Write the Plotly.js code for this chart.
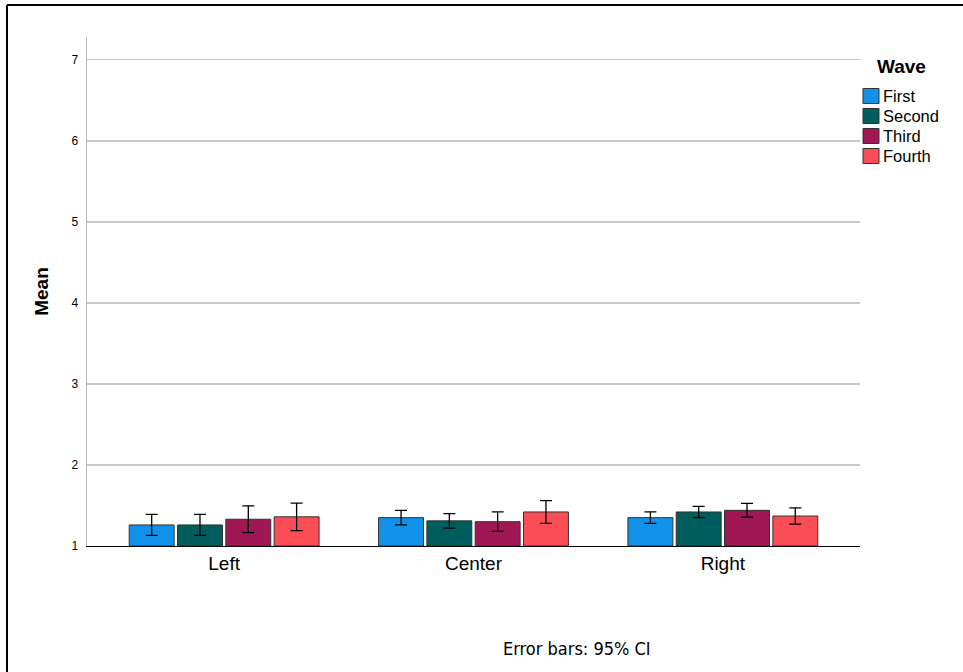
<!DOCTYPE html>
<html>
<head>
<meta charset="utf-8">
<script src="https://cdn.plot.ly/plotly-3.0.1.min.js"></script>
<style>
html,body{margin:0;padding:0;background:#fff;}
#chart{width:963px;height:672px;}
</style>
</head>
<body>
<div id="chart"></div>
<script>
// Data
const categories = ["Left", "Center", "Right"];
const waves = ["First", "Second", "Third", "Fourth"];
const waveColors = ["#1192E8", "#005D5D", "#9F1853", "#FA4D56"];
const firstMeans  = [1.26, 1.35, 1.35];
const secondMeans = [1.26, 1.31, 1.42];
const thirdMeans  = [1.33, 1.30, 1.44];
const fourthMeans = [1.36, 1.42, 1.37];
const firstCI  = [0.13, 0.09, 0.07];
const secondCI = [0.13, 0.09, 0.07];
const thirdCI  = [0.165, 0.12, 0.085];
const fourthCI = [0.17, 0.14, 0.10];
const yTicks = [1, 2, 3, 4, 5, 6, 7];

const means = [firstMeans, secondMeans, thirdMeans, fourthMeans];
const cis = [firstCI, secondCI, thirdCI, fourthCI];

const traces = waves.map((w, i) => ({
  type: "bar",
  name: w,
  x: categories,
  y: means[i].map(v => v - 1),
  base: 1,
  customdata: means[i],
  marker: { color: waveColors[i], line: { color: "#333333", width: 1 } },
  error_y: { type: "data", array: cis[i], visible: true, color: "#000000", thickness: 1.3, width: 6 },
  showlegend: false,
  hovertemplate: "%{x}: %{customdata}<extra>" + w + "</extra>"
}));

// Plot area in pixels: x 87..860, y 37..546
const PL = 87, PW = 773, PB = 546, PH = 509;
const px = p => (p - PL) / PW;
const py = p => (PB - p) / PH;

// Legend (drawn as swatches + labels next to the plot)
const legendTop = 96, legendStep = 20, sw = 16;
const legendShapes = waves.map((w, i) => {
  const cy = legendTop + i * legendStep;
  return {
    type: "rect", xref: "paper", yref: "paper",
    x0: px(863), x1: px(863 + sw), y0: py(cy + sw / 2 - 0.5), y1: py(cy - sw / 2 + 0.5),
    fillcolor: waveColors[i], line: { color: "#333333", width: 1 }
  };
});
const legendLabels = waves.map((w, i) => ({
  text: w, xref: "paper", yref: "paper", x: px(881), y: py(legendTop + i * legendStep),
  xanchor: "left", yanchor: "middle", showarrow: false,
  font: { size: 16.5, color: "#000" }
}));

const layout = {
  width: 963,
  height: 672,
  margin: { l: 87, r: 103, t: 37, b: 126 },
  paper_bgcolor: "#ffffff",
  plot_bgcolor: "#ffffff",
  font: { family: "Liberation Sans, Arial, sans-serif", color: "#000000" },
  barmode: "group",
  bargap: 0.225,
  bargroupgap: 0.07,
  showlegend: false,
  xaxis: {
    range: [-0.55, 2.55],
    showline: true, linecolor: "#000000", linewidth: 1.2,
    showgrid: false, zeroline: false,
    ticks: "", tickfont: { size: 19, color: "#000" },
    fixedrange: true
  },
  yaxis: {
    range: [1, 7.28],
    tickvals: yTicks,
    ticktext: yTicks.map(String),
    showline: true, linecolor: "#b8b8b8", linewidth: 1.5,
    showgrid: true, gridcolor: "#c8c8c8", gridwidth: 1.5,
    zeroline: false,
    ticks: "outside", ticklen: 5, tickcolor: "rgba(0,0,0,0)",
    tickfont: { size: 12, color: "#000" },
    title: { text: "<b>Mean</b>", font: { size: 19 }, standoff: 18 },
    fixedrange: true
  },
  shapes: [
    { type: "line", xref: "paper", yref: "paper", x0: px(7), x1: px(980), y0: py(5), y1: py(5), line: { color: "#000", width: 2 } },
    { type: "line", xref: "paper", yref: "paper", x0: px(7), x1: px(7), y0: py(700), y1: py(5), line: { color: "#000", width: 2 } }
  ].concat(legendShapes),
  annotations: [
    { text: "<b>Wave</b>", xref: "paper", yref: "paper", x: px(875), y: py(67), xanchor: "left", yanchor: "middle",
      showarrow: false, font: { size: 19, color: "#000" } },
    { text: "Error bars: 95% CI", xref: "paper", yref: "paper", x: px(577), y: py(648), xanchor: "center", yanchor: "middle",
      showarrow: false, font: { size: 18, family: "DejaVu Sans Condensed, Liberation Sans Narrow, sans-serif", color: "#000" } }
  ].concat(legendLabels)
};

Plotly.newPlot("chart", traces, layout, { displayModeBar: false, staticPlot: true });
</script>
</body>
</html>
